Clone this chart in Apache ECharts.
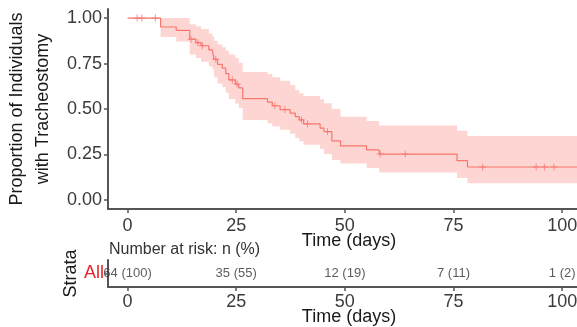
<!DOCTYPE html>
<html>
<head>
<meta charset="utf-8">
<script src="https://cdn.jsdelivr.net/npm/echarts@6/dist/echarts.min.js"></script>
<style>
  html, body { margin: 0; padding: 0; background: #fff; }
  #chart { width: 577px; height: 327px; }
</style>
</head>
<body>
<div id="chart"></div>
<script>
// Kaplan-Meier steps (time in days)
var kmTime  = [0, 7.6, 11.2, 14.3, 15.7, 16.9, 18.7, 19.5, 19.9, 20.7, 21.8, 22.6, 23.3, 24.8, 25.6, 26.5, 32.2, 33.3, 35.1, 37.4, 38.6, 39.5, 40.5, 44.3, 45.2, 47.0, 49.0, 55.0, 57.9, 75.8, 78.2, 107];
var kmSurv  = [1, 0.951, 0.932, 0.884, 0.865, 0.848, 0.825, 0.814, 0.773, 0.745, 0.725, 0.695, 0.660, 0.637, 0.616, 0.557, 0.538, 0.518, 0.497, 0.477, 0.458, 0.440, 0.418, 0.395, 0.376, 0.325, 0.297, 0.275, 0.252, 0.216, 0.181, 0.181];
var kmUpper = [1, 1, 1, 0.966, 0.955, 0.94, 0.915, 0.9, 0.875, 0.855, 0.84, 0.82, 0.80, 0.78, 0.755, 0.703, 0.692, 0.674, 0.655, 0.632, 0.605, 0.586, 0.572, 0.554, 0.532, 0.50, 0.458, 0.434, 0.409, 0.380, 0.352, 0.352];
var kmLower = [1, 0.896, 0.871, 0.80, 0.78, 0.76, 0.735, 0.72, 0.675, 0.64, 0.62, 0.59, 0.555, 0.53, 0.505, 0.44, 0.422, 0.404, 0.386, 0.364, 0.34, 0.322, 0.304, 0.28, 0.253, 0.22, 0.20, 0.175, 0.151, 0.12, 0.092, 0.092];

// censored observations
var censorTime = [2.2, 3.3, 6.4, 14.6, 16.2, 17.2, 20.3, 24.1, 25.2, 33.9, 36.2, 40.0, 41.4, 46.0, 58.1, 63.9, 81.7, 94.0, 95.9, 98.1];
var censorSurv = [1, 1, 1, 0.884, 0.865, 0.848, 0.773, 0.660, 0.637, 0.518, 0.497, 0.440, 0.418, 0.376, 0.252, 0.252, 0.181, 0.181, 0.181, 0.181];

// number at risk table
var riskTime = [0, 25, 50, 75, 100];
var riskN = [64, 35, 12, 7, 1];
var riskPct = [100, 55, 19, 11, 2];

var xTicks = [0, 25, 50, 75, 100];
var yTicks = [0, 0.25, 0.5, 0.75, 1];

var red = '#F8766D';
var axisColor = '#555';
var labelColor = '#3a3a3a';

var myChart = echarts.init(document.getElementById('chart'));

function renderBand(params, api) {
  var top = [], bottom = [];
  for (var i = 0; i < kmTime.length - 1; i++) {
    top.push(api.coord([kmTime[i], kmUpper[i]]));
    top.push(api.coord([kmTime[i + 1], kmUpper[i]]));
    bottom.push(api.coord([kmTime[i], kmLower[i]]));
    bottom.push(api.coord([kmTime[i + 1], kmLower[i]]));
  }
  return {
    type: 'polygon',
    shape: { points: top.concat(bottom.reverse()) },
    style: { fill: 'rgba(248,118,109,0.3)' }
  };
}

function timeAxis(gridIndex, nameGap, labelMargin) {
  return {
    gridIndex: gridIndex,
    type: 'value',
    position: 'bottom',
    min: -4.5,
    max: 106.4,
    axisLine: { show: true, onZero: false, lineStyle: { color: axisColor, width: 2 } },
    axisTick: { show: true, customValues: xTicks, length: 4, lineStyle: { color: axisColor, width: 1.5 } },
    axisLabel: { customValues: xTicks, fontSize: 18, color: labelColor, margin: labelMargin },
    splitLine: { show: false },
    name: 'Time (days)',
    nameLocation: 'middle',
    nameGap: nameGap,
    nameMoveOverlap: false,
    nameTextStyle: { fontSize: 18, color: '#1a1a1a' }
  };
}

var option = {
  animation: false,
  textStyle: { fontFamily: 'Liberation Sans' },
  title: {
    text: 'Number at risk: n (%)',
    left: 109,
    top: 242,
    padding: 0,
    textStyle: { fontSize: 16, fontWeight: 'normal', color: '#333' }
  },
  grid: [
    { left: 108, width: 482, top: 9, height: 200, outerBoundsMode: 'none', containLabel: false },
    { left: 108, width: 482, top: 260, height: 27, outerBoundsMode: 'none', containLabel: false }
  ],
  xAxis: [timeAxis(0, 23, 8), timeAxis(1, 21, 6)],
  yAxis: [
    {
      gridIndex: 0,
      type: 'value',
      min: -0.05,
      max: 1.05,
      axisLine: { show: true, onZero: false, lineStyle: { color: axisColor, width: 2 } },
      axisTick: { show: true, customValues: yTicks, length: 4, lineStyle: { color: axisColor, width: 1.5 } },
      axisLabel: {
        customValues: yTicks,
        fontSize: 18,
        color: labelColor,
        margin: 6,
        formatter: function (v) { return v.toFixed(2); }
      },
      splitLine: { show: false },
      name: 'Proportion of Individuals\nwith Tracheostomy',
      nameLocation: 'middle',
      nameRotate: 90,
      nameGap: 52,
      nameMoveOverlap: false,
      nameTextStyle: { fontSize: 18, color: '#1a1a1a', lineHeight: 26 }
    },
    {
      gridIndex: 1,
      type: 'category',
      data: ['All'],
      axisLine: { show: true, onZero: false, lineStyle: { color: axisColor, width: 2 } },
      axisTick: { show: true, length: 3, alignWithLabel: true, lineStyle: { color: axisColor, width: 1.5 } },
      axisLabel: { fontSize: 18, color: '#E8232A', margin: 4 },
      name: 'Strata',
      nameLocation: 'middle',
      nameRotate: 90,
      nameGap: 28,
      nameMoveOverlap: false,
      nameTextStyle: { fontSize: 18, color: '#1a1a1a' }
    }
  ],
  series: [
    {
      type: 'custom',
      xAxisIndex: 0,
      yAxisIndex: 0,
      renderItem: renderBand,
      data: [[0, 1]],
      silent: true,
      z: 1
    },
    {
      type: 'line',
      xAxisIndex: 0,
      yAxisIndex: 0,
      step: 'end',
      showSymbol: false,
      data: kmTime.map(function (t, i) { return [t, kmSurv[i]]; }),
      lineStyle: { color: red, width: 1.2 },
      z: 2
    },
    {
      type: 'scatter',
      xAxisIndex: 0,
      yAxisIndex: 0,
      symbol: 'path://M3,0H4V7H3Z M0,3H7V4H0Z',
      symbolSize: 7,
      itemStyle: { color: red },
      data: censorTime.map(function (t, i) { return [t, censorSurv[i]]; }),
      z: 3
    },
    {
      type: 'scatter',
      xAxisIndex: 1,
      yAxisIndex: 1,
      symbolSize: 1,
      itemStyle: { color: 'transparent' },
      data: riskTime.map(function (t, i) { return [t, 'All', riskN[i], riskPct[i]]; }),
      label: {
        show: true,
        position: 'inside',
        fontSize: 13,
        color: '#333',
        formatter: function (p) { return p.data[2] + ' (' + p.data[3] + ')'; }
      }
    }
  ]
};

myChart.setOption(option);
</script>
</body>
</html>
